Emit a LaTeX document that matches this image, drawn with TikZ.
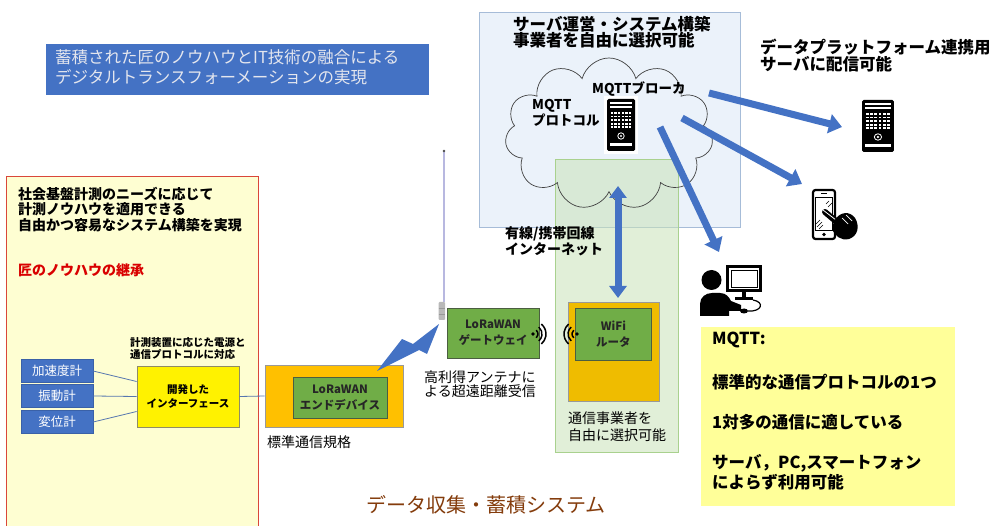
\documentclass[tikz,border=0pt]{standalone}
\usepackage{fontspec}
\setmainfont{Noto Sans CJK JP}
\usetikzlibrary{arrows.meta,shapes.symbols,calc}

\definecolor{ppblue}{HTML}{4472C4}
\definecolor{notepad}{HTML}{FEFED2}
\definecolor{notered}{HTML}{D9473A}
\definecolor{leafgreen}{HTML}{70AD47}
\definecolor{leafedge}{HTML}{4B5E41}
\definecolor{amber}{HTML}{FFC000}
\definecolor{amberdark}{HTML}{EFBC00}
\definecolor{skyfill}{HTML}{EBF2FA}
\definecolor{skyedge}{HTML}{A6BCD8}
\definecolor{zonefill}{HTML}{C9E3B9}
\definecolor{zoneedge}{HTML}{A9D18E}
\definecolor{lemon}{HTML}{FFFF99}
\definecolor{brownish}{HTML}{843C0C}
\definecolor{titletext}{HTML}{E4E6EE}

\newcommand\fsz[2]{\fontsize{#1}{#2}\selectfont}

\tikzset{
  label/.style={inner sep=0pt, align=left, anchor=west},
  sensor/.style={fill=ppblue, draw=ppblue!85!black, minimum width=72pt, minimum height=23pt,
    inner sep=0pt, text=white, font=\fsz{12.5}{14}},
  greenbox/.style={fill=leafgreen, draw=leafedge, line width=0.8pt, inner sep=0pt,
    align=center, text=black!85, font=\fsz{11.5}{16}\bfseries},
  wire/.style={draw=ppblue!70!gray, line width=0.8pt},
  fatarrow/.style={draw=ppblue, line width=7pt, -{Triangle[length=13pt,width=19pt]}},
  fatdouble/.style={draw=ppblue, line width=7pt,
    {Triangle[length=12pt,width=17pt]}-{Triangle[length=12pt,width=17pt]}},
  wave/.style={line width=1.5pt, draw=black},
  srv/.pic={
    \fill[black, rounded corners=1.5pt] (0,0) rectangle (28,52);
    \fill[white] (3,3.5) rectangle (25,5.5);
    \fill[white] (3,7.5) rectangle (25,9.5);
    \foreach \r in {0,...,4}
      \foreach \c in {0,...,5}
        \fill[white] ({3.5+\c*3.7},{13+\r*3.6}) rectangle ++(2.4,1.8);
    \draw[white, line width=0.8pt] (14,37) circle (3.2);
    \fill[white] (14,37) circle (1.2);
    \fill[white] (3,44) rectangle (25,47);
  }
}

\begin{document}
\begin{tikzpicture}[x=1pt, y=-1pt]
\useasboundingbox (0,0) rectangle (995,526);
\clip (0,0) rectangle (995,526);
\fill[white] (0,0) rectangle (995,526);

% headline banner
\node[fill=ppblue, minimum width=383pt, minimum height=51pt, anchor=north west, inner sep=0pt] (headline) at (46,44) {};
\node[label, text=titletext, font=\fsz{16.5}{20}] (headtext) at (55,67)
  {蓄積された匠のノウハウとIT技術の融合による\\デジタルトランスフォーメーションの実現};

% left panel: measurement know-how
\node[fill=notepad, draw=notered, line width=1.2pt, anchor=north west, minimum width=252pt, minimum height=370pt, inner sep=0pt] (panel) at (6,176) {};
\node[label, font=\fsz{14}{15.5}\bfseries] (needs) at (18,209.5)
  {社会基盤計測のニーズに応じて\\計測ノウハウを適用できる\\自由かつ容易なシステム構築を実現};
\node[label, font=\fsz{14}{15.5}\bfseries, text=red!85!black] (legacy) at (18,270) {匠のノウハウの継承};

% sensors
\node[sensor] (acc) at (57,371) {加速度計};
\node[sensor] (vib) at (57,396) {振動計};
\node[sensor] (disp) at (57,422) {変位計};

% interface
\node[fill=yellow, draw=gray!70!olive, line width=0.8pt, minimum width=102pt, minimum height=61pt, inner sep=0pt,
  align=center, font=\fsz{10.5}{14}\bfseries] (iface) at (188,396.5) {開発した\\インターフェース};
\node[label, font=\fsz{10.5}{12}\bfseries] (ifnote) at (130,348.5) {計測装置に応じた電源と\\通信プロトコルに対応};

\draw[wire] (acc.east) -- ($(iface.west)+(0,-15)$);
\draw[wire] (vib.east) -- (iface.west);
\draw[wire] (disp.east) -- ($(iface.west)+(0,15)$);

% LoRaWAN end device
\node[fill=amber, draw=gray!80, line width=0.8pt, minimum width=138pt, minimum height=62pt, inner sep=0pt] (enddev) at (334,396) {};
\node[greenbox, minimum width=94pt, minimum height=41pt] (endin) at (340,397.5) {LoRaWAN\\エンドデバイス};
\node[label, font=\fsz{14}{16}] (std) at (267,442) {標準通信規格};
\draw[wire] (iface.east) -- (enddev.west);

% radio link bolt
\fill[ppblue] (439,324) -- (427,354) -- (419,350) -- (377,371) -- (402,339) -- (413,344) -- cycle;

% antenna mast
\draw[gray!60!blue!40, line width=1.6pt] (444,151) -- (444,302);
\fill[black!70] (444,151) circle (1.3);
\fill[gray!55, rounded corners=1pt] (438.5,302) rectangle (445,320);
\draw[gray!80, line width=0.5pt] (438.5,308) -- (445,308) (438.5,314) -- (445,314);

% LoRaWAN gateway
\node[greenbox, minimum width=92pt, minimum height=50pt] (gw) at (493,333) {LoRaWAN\\ゲートウェイ};
\fill (533,334) circle (1.8);
\foreach \rr in {5,9,13}
  \draw[wave] ($(533,334)+(-50:\rr)$) arc[start angle=-50, end angle=50, radius=\rr];
\node[label, font=\fsz{14}{14.5}] (gain) at (424,384) {高利得アンテナに\\よる超遠距離受信};

% server side zone
\node[fill=skyfill, draw=skyedge, line width=0.8pt, minimum width=261pt, minimum height=215pt, anchor=north west, inner sep=0pt] (cloudzone) at (479,12) {};
\node[fill=zonefill, fill opacity=0.55, draw=zoneedge, line width=0.8pt, anchor=north west, minimum width=123pt, minimum height=293pt, inner sep=0pt] (carrier) at (555,159) {};
\node[cloud, cloud puffs=11, cloud ignores aspect, draw=black!75, line width=0.7pt, minimum width=208pt, minimum height=152pt, inner sep=0pt] (net) at (609,134) {};

\node[label, font=\fsz{16.5}{16}\bfseries] (svctitle) at (513,32) {サーバ運営・システム構築\\事業者を自由に選択可能};
\node[label, font=\fsz{13.5}{16}\bfseries] (proto) at (532,113) {MQTT\\プロトコル};
\node[label, font=\fsz{13.5}{16}\bfseries] (brokerlbl) at (592,89) {MQTTブローカ};

% broker server
\node[fill=white, minimum width=34pt, minimum height=58pt, inner sep=0pt] (broker) at (621,125.5) {};
\pic at (607,99) {srv};

% WiFi router
\node[fill=amberdark, draw=gray!80, line width=0.8pt, anchor=north west, minimum width=91pt, minimum height=99pt, inner sep=0pt] (routerbox) at (568,302) {};
\node[greenbox, anchor=north west, minimum width=76pt, minimum height=52pt] (wifi) at (575,308) {WiFi\\ルータ};
\fill (577,334) circle (1.8);
\foreach \rr in {5,9,13}
  \draw[wave] ($(577,334)+(130:\rr)$) arc[start angle=130, end angle=230, radius=\rr];

\coordinate (upend) at (618,186);
\coordinate (downend) at (618,298);
\draw[fatdouble] (upend) -- (downend);

\node[label, font=\fsz{14}{16}\bfseries] (wan) at (505,241) {有線/携帯回線\\インターネット};
\node[label, font=\fsz{14}{17}] (carrierlbl) at (568,426.5) {通信事業者を\\自由に選択可能};

% delivery targets
\node[label, font=\fsz{16.5}{15.5}\bfseries] (platform) at (760,55.5) {データプラットフォーム連携用\\サーバに配信可能};

\node[inner sep=0pt, minimum width=32pt, minimum height=53pt] (dataserver) at (878,126.5) {};
\pic[xscale=1.14] at (862,100) {srv};

% smartphone with hand
\node[inner sep=0pt, minimum width=46pt, minimum height=51pt] (phone) at (835,214.5) {};
\draw[line width=2.2pt, rounded corners=2.5pt, fill=white] (813,190) rectangle (835,239);
\draw[line width=0.8pt] (815.5,197) rectangle (832.5,230);
\fill (824,234.5) circle (1.8);
\draw[line width=1pt] (821,193.5) -- (827,193.5);
\draw[line width=0.6pt] (826,204) -- (829,201) (828,207) -- (832,203);
\draw[line width=0.6pt] (816,224) -- (820,220) (817,227) -- (822,222) (819,229) -- (823,225);
\draw[line width=6pt, line cap=round] (825,212) -- (838,223);
\draw[white, line width=0.8pt] (823,210) -- (836,220);
\fill (834,221) .. controls (840,211) and (850,211) .. (855,218)
  .. controls (860,226) and (858,236) .. (849,239)
  .. controls (841,241) and (835,236) .. (832,229) -- cycle;
\draw[white, line width=0.7pt] (842,218) -- (848,224) (846,215) -- (852,221);

% PC user
\node[inner sep=0pt, minimum width=62pt, minimum height=51pt] (pcuser) at (731,290.5) {};
\fill (711.5,280) circle (10);
\fill (700,316) -- (700,304) .. controls (700,297) and (706,293) .. (712,293) -- (720,293)
  .. controls (726,293) and (729,297) .. (731,301) -- (741,305) -- (741,311) -- (729,311) -- (729,316) -- cycle;
\draw[line width=3pt, fill=white] (727.5,266.5) rectangle (760.5,290.5);
\draw[line width=0.7pt] (731,270) rectangle (757,287);
\fill (742,292) rectangle (746,298);
\fill (735,297.5) rectangle (753,300);
\draw[line width=1.2pt] (753,300) .. controls (765,302) and (762,312) .. (748,311);
\fill (744,311) ellipse (4 and 2.5);

% broker fan-out
\coordinate (fan1) at (709,93);
\coordinate (fan2) at (682,118);
\coordinate (fan3) at (660,127);
\coordinate (tip1) at (842,127);
\coordinate (tip2) at (802,184);
\coordinate (tip3) at (719,252);
\draw[fatarrow] (fan1) -- (tip1);
\draw[fatarrow] (fan2) -- (tip2);
\draw[fatarrow] (fan3) -- (tip3);

% MQTT note
\node[fill=lemon, anchor=north west, minimum width=254pt, minimum height=179pt, inner sep=0pt] (mqttnote) at (701,327) {};
\node[label, font=\fsz{16.5}{20}\bfseries] (m1) at (712,340) {MQTT:};
\node[label, font=\fsz{16.5}{20}\bfseries] (m2) at (712,382) {標準的な通信プロトコルの1つ};
\node[label, font=\fsz{16.5}{20}\bfseries] (m3) at (712,422) {1対多の通信に適している};
\node[label, font=\fsz{16.5}{19.5}\bfseries] (m4) at (712,472.5) {サーバ，PC,スマートフォン\\によらず利用可能};

% system caption
\node[font=\fsz{20}{22}, text=brownish, inner sep=0pt] (system) at (486,505) {データ収集・蓄積システム};
\end{tikzpicture}
\end{document}
